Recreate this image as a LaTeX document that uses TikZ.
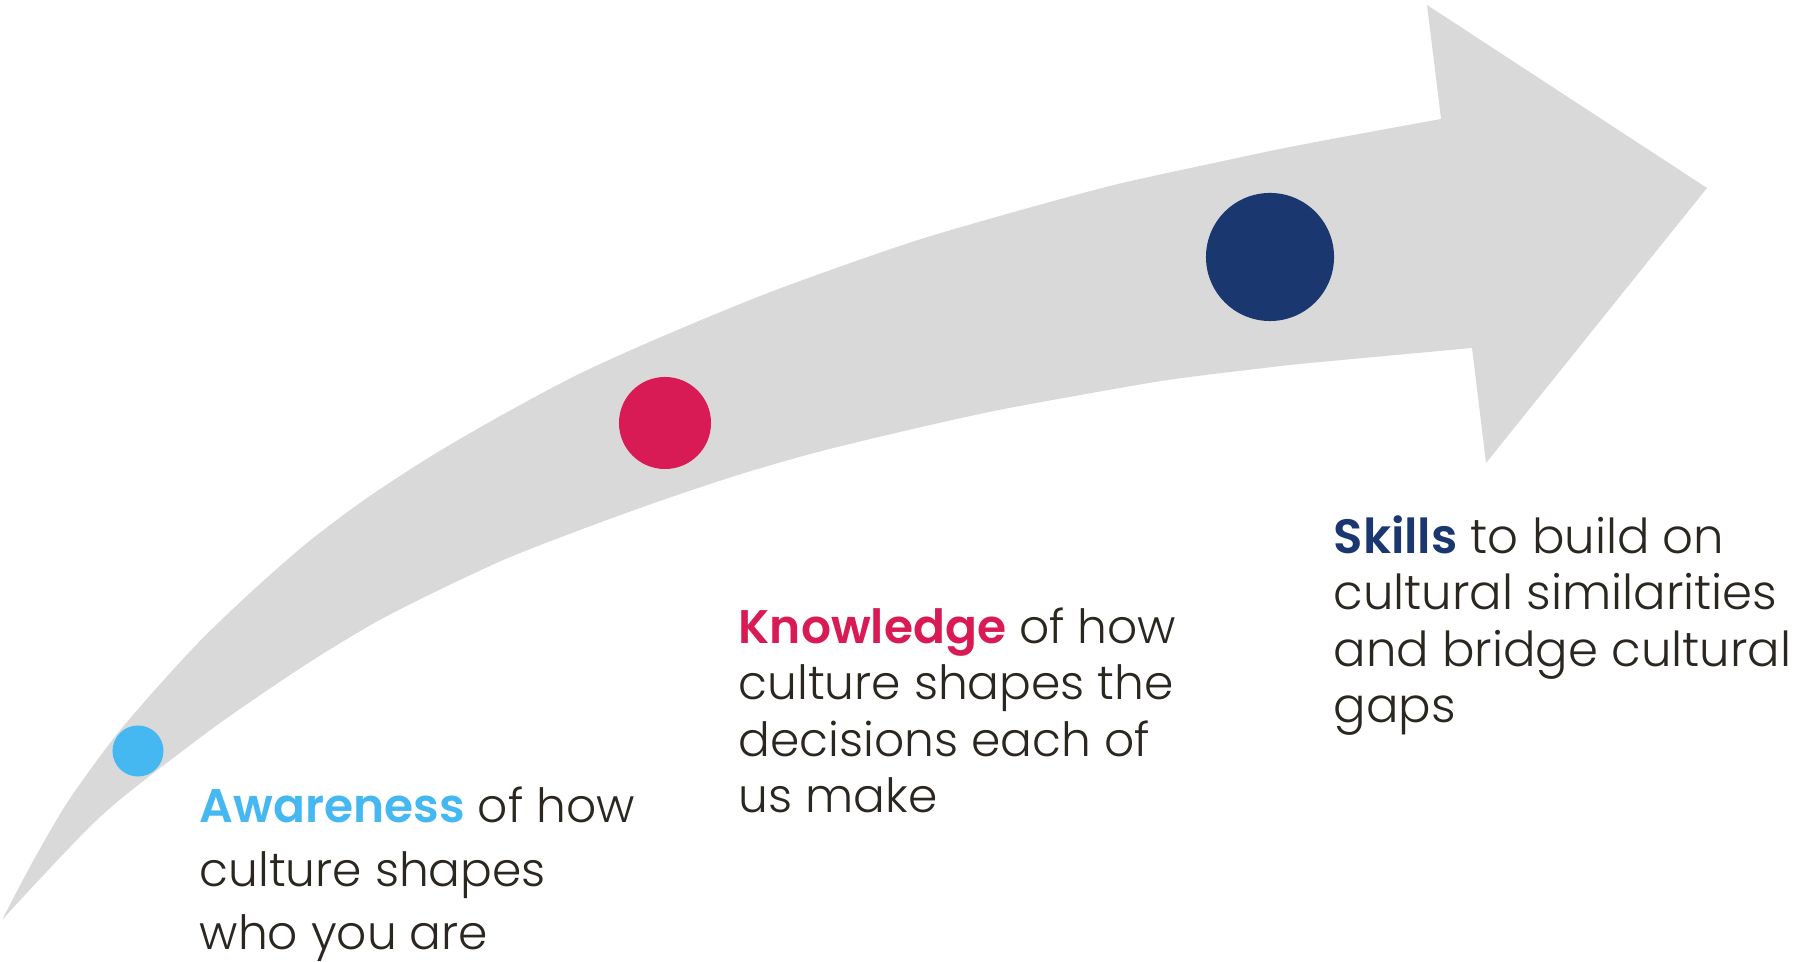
\documentclass[tikz,border=0pt]{standalone}
\usepackage{fontspec}
\setmainfont{Poppins Light}[BoldFont={Poppins SemiBold}]
\definecolor{arrowgray}{HTML}{D9D9D9}
\definecolor{awareblue}{HTML}{45B8F2}
\definecolor{knowred}{HTML}{D81A55}
\definecolor{skillnavy}{HTML}{1B376F}
\definecolor{bodytext}{HTML}{2A2620}
\tikzset{
  dot/.style={circle, fill, inner sep=0pt},
  blurb/.style={anchor=base west, align=left, inner sep=0pt, text=bodytext},
}
\begin{document}
\begin{tikzpicture}[x=0.01cm, y=-0.01cm]
\useasboundingbox (0,0) rectangle (1794,962);
% curved arrow
\fill[arrowgray] plot[smooth, tension=0.5] coordinates {(2,920) (32,863) (67,803) (110,743) (146,700) (198,643) (250,593) (307,543) (367,498) (433,455) (502,415) (577,375) (654,340) (750,300) (825,272) (918,240) (1014,212) (1114,185) (1214,163) (1300,145) (1441,119)}
  -- (1427,5) -- (1707,188) -- (1486,463) -- (1472,348)
  -- plot[smooth, tension=0.5] coordinates {(1472,348) (1310,363) (1264,368) (1168,380) (1075,396) (989,412) (900,432) (814,453) (738,475) (657,502) (580,530) (508,558) (439,590) (376,622) (313,660) (253,700) (197,740) (100,817) (2,920)}
  -- cycle;
% dots
\node[dot, awareblue, minimum size=0.51cm] (dotA) at (138,751) {};
\node[dot, knowred, minimum size=0.92cm] (dotK) at (665,423) {};
\node[dot, skillnavy, minimum size=1.28cm] (dotS) at (1270,257) {};
% texts (anchored on the last line)
\node[blurb, font=\fontsize{13.4}{18.1}\selectfont] (awareness) at (199,950)
  {\textbf{\color{awareblue}Awareness} of how\\culture shapes\\who you are};
\node[blurb, font=\fontsize{13.4}{16.1}\selectfont] (knowledge) at (738,813)
  {\textbf{\color{knowred}Knowledge} of how\\culture shapes the\\decisions each of\\us make};
\node[blurb, font=\fontsize{13.7}{16.1}\selectfont] (skills) at (1333,723)
  {\textbf{\color{skillnavy}Skills} to build on\\cultural similarities\\and bridge cultural\\gaps};
\end{tikzpicture}
\end{document}
